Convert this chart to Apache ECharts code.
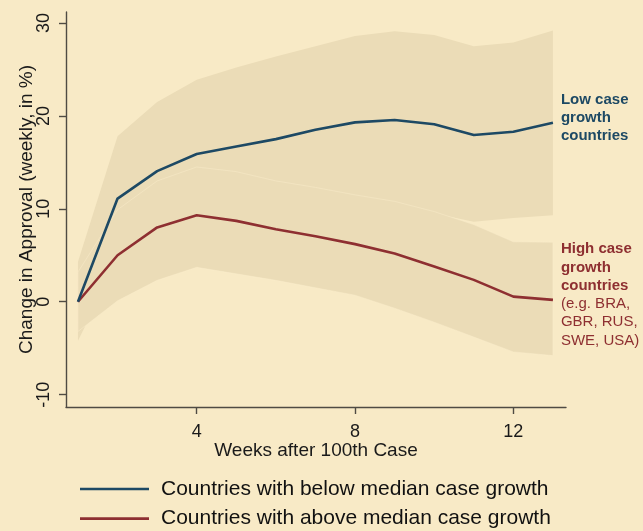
<!DOCTYPE html>
<html><head><meta charset="utf-8">
<script src="https://cdn.jsdelivr.net/npm/echarts@6/dist/echarts.min.js"></script>
<style>html,body{margin:0;padding:0;background:#F8EAC6}#c{width:643px;height:531px}</style>
</head><body><div id="c"></div>
<script>
// ---- data ----
const weeks     = [1, 2, 3, 4, 5, 6, 7, 8, 9, 10, 11, 12, 13];
const lowMean   = [0, 11.1, 14.05, 15.9, 16.7, 17.5, 18.5, 19.3, 19.55, 19.1, 17.95, 18.3, 19.25];
const lowUpper  = [4.3, 17.8, 21.5, 23.9, 25.2, 26.4, 27.5, 28.6, 29.1, 28.7, 27.5, 27.9, 29.2];
const lowLower  = [-4.2, 4.4, 6.6, 7.9, 8.2, 8.6, 9.5, 10.0, 10.0, 9.5, 8.6, 9.0, 9.3];
const highMean  = [0, 5.0, 8.0, 9.3, 8.7, 7.8, 7.05, 6.2, 5.2, 3.8, 2.35, 0.55, 0.2];
const highUpper = [3.2, 9.9, 13.0, 14.5, 14.0, 13.0, 12.3, 11.5, 10.8, 9.7, 8.3, 6.45, 6.4];
const highLower = [-3.2, 0.1, 2.3, 3.7, 3.0, 2.3, 1.5, 0.7, -0.7, -2.2, -3.8, -5.4, -5.8];
const yTicks = [-10, 0, 10, 20, 30];
const xTicks = [4, 8, 12];
const lowName  = 'Countries with below median case growth';
const highName = 'Countries with above median case growth';
const lowLabel  = ['Low case', 'growth', 'countries'];
const highLabel = ['High case', 'growth', 'countries'];
const highNote  = ['(e.g. BRA,', 'GBR, RUS,', 'SWE, USA)'];

const BLUE = '#1d4964', RED = '#8e2f31', BAND = '#ebdcb7', AXIS = '#4f4b43';
const pairs = (ys) => weeks.map((w, i) => [w, ys[i]]);

function band(lower, upper, stroke) {
  return {
    type: 'custom', silent: true, z: 1,
    data: weeks.map((w, i) => [w, lower[i], upper[i]]),
    encode: { x: 0, y: [1, 2] },
    renderItem: (params, api) => {
      if (params.dataIndex !== 0) return null;
      const pts = [];
      for (let i = 0; i < weeks.length; i++) pts.push(api.coord([weeks[i], upper[i]]));
      for (let i = weeks.length - 1; i >= 0; i--) pts.push(api.coord([weeks[i], lower[i]]));
      return { type: 'polygon', shape: { points: pts },
               style: { fill: BAND, stroke: stroke || null, lineWidth: stroke ? 1 : 0 } };
    }
  };
}

const chart = echarts.init(document.getElementById('c'), null, { renderer: 'canvas' });
chart.setOption({
  backgroundColor: '#F8EAC6',
  animation: false,
  textStyle: { fontFamily: 'Liberation Sans, Arial, sans-serif' },
  grid: { left: 66, top: 12, width: 500, height: 395, containLabel: false },
  xAxis: {
    type: 'value', min: 0.6975, max: 13.33,
    splitLine: { show: false },
    axisLine: { show: true, onZero: false, lineStyle: { color: AXIS, width: 1.4 } },
    axisTick: { show: true, length: 7, customValues: xTicks, lineStyle: { color: AXIS, width: 1.4 } },
    axisLabel: { customValues: xTicks, fontSize: 18, color: '#1a1a1a', margin: 16 },
    name: 'Weeks after 100th Case', nameLocation: 'middle', nameGap: 34, nameMoveOverlap: false,
    nameTextStyle: { fontSize: 19, color: '#1a1a1a' }
  },
  yAxis: {
    type: 'value', min: -11.33, max: 31.18,
    splitLine: { show: false },
    axisLine: { show: true, onZero: false, lineStyle: { color: AXIS, width: 1.4 } },
    axisTick: { show: true, length: 7, customValues: yTicks, lineStyle: { color: AXIS, width: 1.4 } },
    axisLabel: { customValues: yTicks, rotate: 90, fontSize: 18, color: '#1a1a1a', margin: 13 },
    name: 'Change in Approval (weekly, in %)', nameLocation: 'middle', nameGap: 29.5, nameMoveOverlap: false,
    nameTextStyle: { fontSize: 19, color: '#1a1a1a' }
  },
  legend: {
    data: [lowName, highName], orient: 'vertical', left: 80, top: 478.5, padding: 0,
    icon: 'rect', itemWidth: 69, itemHeight: 2.7, itemGap: 8.7,
    textStyle: { fontSize: 21, color: '#111', lineHeight: 21, padding: [0, 0, 0, 7] }
  },
  series: [
    band(lowLower, lowUpper),
    band(highLower, highUpper, 'rgba(250,238,205,0.45)'),
    { name: highName, type: 'line', data: pairs(highMean), symbol: 'none', z: 3,
      lineStyle: { color: RED, width: 2.6 }, itemStyle: { color: RED },
      endLabel: { show: true, distance: 8, offset: [0, -5],
        formatter: () => highLabel.map(s => '{b|' + s + '}').join('\n') + '\n' + highNote.map(s => '{r|' + s + '}').join('\n'),
        rich: { b: { fontSize: 15, fontWeight: 'bold', color: RED, lineHeight: 18.3 },
                r: { fontSize: 15, color: RED, lineHeight: 18.3 } } } },
    { name: lowName, type: 'line', data: pairs(lowMean), symbol: 'none', z: 4,
      lineStyle: { color: BLUE, width: 2.6 }, itemStyle: { color: BLUE },
      endLabel: { show: true, distance: 8, offset: [0, -5],
        formatter: () => lowLabel.map(s => '{b|' + s + '}').join('\n'),
        rich: { b: { fontSize: 15, fontWeight: 'bold', color: BLUE, lineHeight: 18.3 } } } }
  ]
});
</script>
</body></html>
